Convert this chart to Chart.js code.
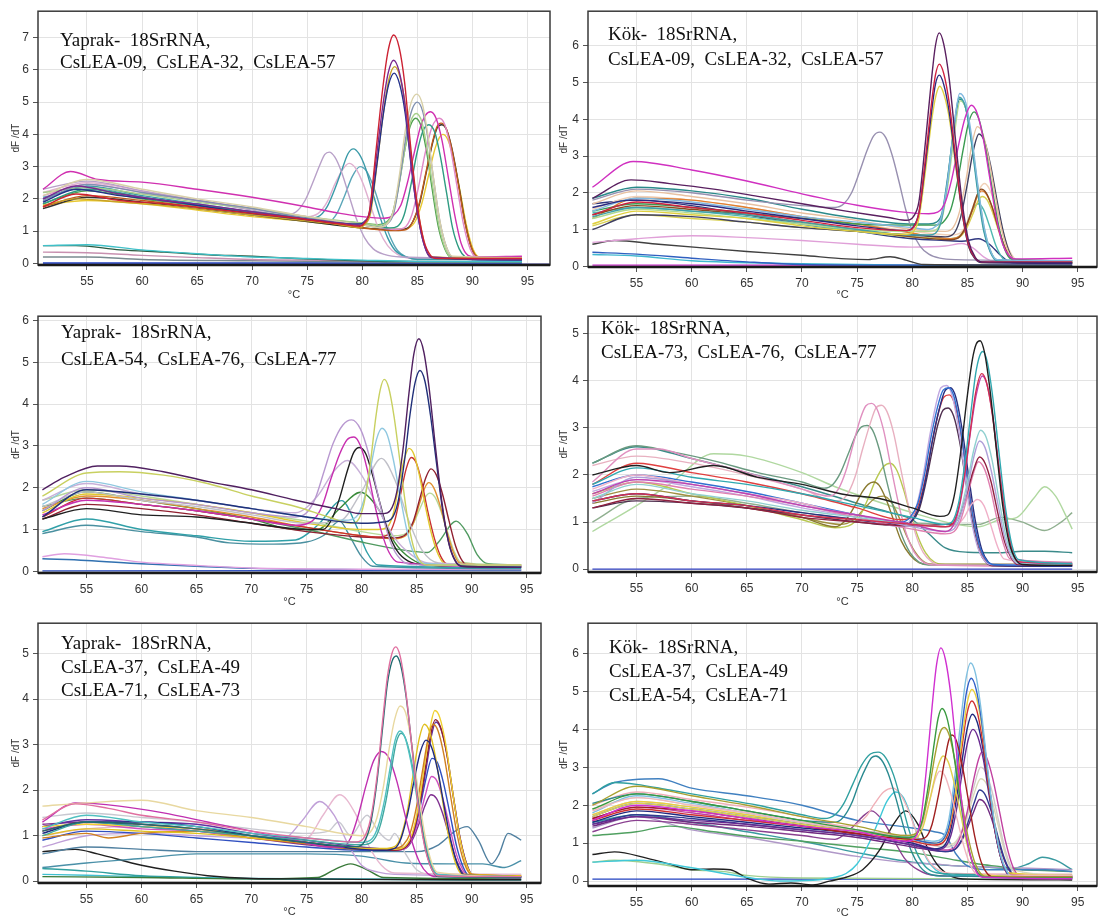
<!DOCTYPE html>
<html>
<head>
<meta charset="utf-8">
<title>Erime eğrileri</title>
<script src="https://cdn.jsdelivr.net/npm/chart.js@4.4.1/dist/chart.umd.min.js"></script>
<style>
  body { margin: 0; background: #fff; }
  #wrap { position: relative; width: 1103px; height: 924px; overflow: hidden; }
  .panel { position: absolute; }
  .note { position: absolute; font-family: "Liberation Serif", "Times New Roman", serif; font-size: 19px; color: #111; white-space: pre; }
</style>
</head>
<body>
<div id="wrap"></div>
<script>
// tick labels
const tempTicks = [55, 60, 65, 70, 75, 80, 85, 90, 95];
const ticks5 = [0, 1, 2, 3, 4, 5];
const ticks6 = [0, 1, 2, 3, 4, 5, 6];
const ticks7 = [0, 1, 2, 3, 4, 5, 6, 7];

// panel captions
const yaprak1Label = ["Yaprak-  18SrRNA,", "CsLEA-09,  CsLEA-32,  CsLEA-57"];
const kok1Label = ["Kök-  18SrRNA,", "CsLEA-09,  CsLEA-32,  CsLEA-57"];
const yaprak2Label = ["Yaprak-  18SrRNA,", "CsLEA-54,  CsLEA-76,  CsLEA-77"];
const kok2Label = ["Kök-  18SrRNA,", "CsLEA-73,  CsLEA-76,  CsLEA-77"];
const yaprak3Label = ["Yaprak-  18SrRNA,", "CsLEA-37,  CsLEA-49", "CsLEA-71,  CsLEA-73"];
const kok3Label = ["Kök-  18SrRNA,", "CsLEA-37,  CsLEA-49", "CsLEA-54,  CsLEA-71"];

// melt curves: each curve is a list of [°C, dF/dT]
const yaprak1 = [
  [[51,1.75],[54,2.15],[58,1.95],[62,1.85],[66,1.7],[70,1.55],[74,1.4],[78,1.22],[79.8,1.15],[80.2,1.25],[80.65,1.6],[81.25,3.5],[81.85,5.4],[82.35,6.6],[82.85,7.08],[83.35,6.7],[83.85,5.6],[84.4,3.6],[85,1.8],[85.6,0.7],[86.2,0.25],[86.8,0.15],[94.5,0.15]],
  [[51,2.0],[54,2.4],[58,2.15],[62,1.95],[66,1.8],[70,1.6],[74,1.42],[78,1.25],[79.8,1.18],[80.2,1.28],[80.65,1.6],[81.25,3.2],[81.85,4.85],[82.35,5.9],[82.85,6.3],[83.35,5.95],[83.85,5.0],[84.4,3.2],[85,1.6],[85.6,0.6],[86.2,0.2],[94.5,0.12]],
  [[51,1.9],[54,2.3],[58,2.1],[62,1.95],[66,1.75],[70,1.55],[74,1.4],[78,1.25],[79.8,1.22],[80.2,1.3],[80.7,1.6],[81.3,3.0],[81.9,4.6],[82.4,5.55],[82.9,5.9],[83.4,5.55],[83.9,4.65],[84.45,3.0],[85.05,1.5],[85.65,0.55],[86.25,0.18],[94.5,0.1]],
  [[51,1.8],[54,2.0],[58,1.9],[62,1.8],[66,1.65],[70,1.5],[74,1.35],[78,1.2],[79.8,1.1],[80.2,1.2],[80.75,1.55],[81.35,3.1],[81.95,4.75],[82.45,5.75],[82.95,6.1],[83.45,5.75],[83.95,4.8],[84.5,3.1],[85.1,1.55],[85.7,0.55],[86.3,0.2],[94.5,0.15]],
  [[51,2.1],[55,2.6],[60,2.3],[65,2.0],[70,1.75],[75,1.45],[80,1.2],[81.5,1.12],[82.2,1.2],[82.8,1.6],[83.4,2.8],[83.9,4.1],[84.45,5.0],[84.95,5.25],[85.45,4.95],[85.95,4.0],[86.45,2.7],[87,1.4],[87.6,0.55],[88.2,0.22],[94.5,0.18]],
  [[51,1.95],[55,2.45],[60,2.2],[65,1.95],[70,1.7],[75,1.4],[80,1.2],[81.5,1.12],[82.2,1.2],[82.85,1.55],[83.45,2.7],[83.95,3.9],[84.5,4.75],[85.0,5.0],[85.5,4.7],[86.0,3.8],[86.5,2.55],[87.05,1.3],[87.65,0.5],[88.25,0.18],[94.5,0.15]],
  [[51,2.2],[55,2.35],[60,2.15],[65,1.9],[70,1.7],[75,1.45],[80,1.25],[81.5,1.18],[82.2,1.25],[82.8,1.55],[83.4,2.55],[83.9,3.6],[84.4,4.4],[84.9,4.65],[85.4,4.4],[85.9,3.55],[86.4,2.4],[86.95,1.2],[87.55,0.45],[88.15,0.18],[94.5,0.15]],
  [[51,1.85],[55,2.3],[60,2.05],[65,1.8],[70,1.6],[75,1.4],[80,1.2],[82.5,1.1],[83.2,1.15],[83.8,1.5],[84.4,2.4],[84.95,3.4],[85.5,4.1],[86.05,4.3],[86.6,4.05],[87.1,3.3],[87.65,2.2],[88.2,1.1],[88.8,0.45],[89.4,0.18],[90,0.12],[94.5,0.12]],
  [[51,2.3],[53.5,2.85],[56,2.6],[60,2.52],[65,2.3],[70,2.05],[75,1.75],[78,1.55],[80,1.45],[82,1.4],[82.8,1.48],[83.5,1.8],[84.1,2.5],[84.7,3.4],[85.3,4.25],[85.75,4.6],[86.2,4.7],[86.7,4.5],[87.25,3.8],[87.8,2.7],[88.4,1.5],[89,0.6],[89.6,0.25],[90.2,0.2],[94.5,0.22]],
  [[51,2.1],[55,2.45],[60,2.2],[65,1.95],[70,1.7],[75,1.45],[80,1.2],[83,1.05],[83.8,1.1],[84.5,1.5],[85.1,2.35],[85.7,3.4],[86.3,4.2],[86.7,4.45],[87.0,4.5],[87.5,4.3],[88,3.6],[88.6,2.4],[89.2,1.2],[89.8,0.45],[90.4,0.2],[94.5,0.2]],
  [[51,1.75],[55,2.1],[60,1.95],[65,1.75],[70,1.55],[75,1.35],[80,1.1],[83,1.02],[84,1.05],[84.6,1.3],[85.2,1.9],[85.8,2.85],[86.4,3.8],[86.8,4.25],[87.15,4.35],[87.6,4.2],[88.1,3.6],[88.7,2.5],[89.3,1.3],[89.9,0.5],[90.5,0.2],[94.5,0.15]],
  [[51,1.7],[55,2.05],[60,1.9],[65,1.7],[70,1.5],[75,1.3],[80,1.1],[83,1.05],[84,1.08],[84.6,1.3],[85.2,1.85],[85.8,2.8],[86.4,3.75],[86.8,4.2],[87.2,4.3],[87.65,4.15],[88.15,3.55],[88.75,2.45],[89.35,1.25],[89.95,0.45],[90.55,0.18],[94.5,0.12]],
  [[51,1.8],[55,1.95],[60,1.85],[65,1.65],[70,1.45],[75,1.3],[80,1.1],[83,1.05],[84.2,1.1],[84.8,1.3],[85.4,1.85],[86,2.7],[86.6,3.55],[87,3.9],[87.3,4.0],[87.75,3.85],[88.25,3.3],[88.85,2.3],[89.45,1.2],[90.05,0.45],[90.6,0.2],[94.5,0.15]],
  [[51,2.3],[55,2.55],[60,2.25],[65,1.95],[70,1.65],[73,1.5],[74,1.6],[74.8,1.95],[75.5,2.5],[76.2,3.1],[76.6,3.38],[77.0,3.45],[77.5,3.3],[78.1,2.85],[78.8,2.1],[79.5,1.35],[80.2,0.8],[81,0.45],[82,0.28],[83.5,0.2],[94.5,0.15]],
  [[51,2.0],[55,2.4],[60,2.1],[65,1.85],[70,1.6],[75,1.4],[76,1.45],[76.8,1.75],[77.5,2.3],[78.2,2.95],[78.7,3.4],[79.2,3.55],[79.7,3.4],[80.3,2.95],[80.9,2.25],[81.6,1.45],[82.3,0.8],[83,0.4],[84,0.2],[85,0.13],[94.5,0.12]],
  [[51,2.2],[55,2.5],[60,2.25],[65,1.95],[70,1.7],[75,1.45],[76,1.55],[76.8,1.9],[77.5,2.45],[78.2,2.9],[78.8,3.1],[79.4,2.95],[80.1,2.45],[80.8,1.75],[81.5,1.05],[82.3,0.55],[83.2,0.28],[84.5,0.16],[94.5,0.15]],
  [[51,2.05],[55,2.35],[60,2.05],[65,1.8],[70,1.55],[75,1.35],[77,1.3],[77.7,1.55],[78.4,2.1],[79.1,2.7],[79.8,3.0],[80.4,2.85],[81.1,2.3],[81.8,1.55],[82.5,0.85],[83.2,0.4],[84,0.2],[85,0.12],[94.5,0.12]],
  [[51,0.55],[55,0.58],[60,0.42],[65,0.3],[70,0.2],[75,0.15],[80,0.1],[85,0.06],[94.5,0.05]],
  [[51,0.55],[54,0.55],[58,0.42],[62,0.35],[66,0.27],[70,0.22],[74,0.15],[78,0.1],[82,0.06],[94.5,0.05]],
  [[51,0.35],[55,0.33],[60,0.25],[65,0.18],[70,0.12],[75,0.1],[80,0.08],[85,0.05],[94.5,0.04]],
  [[51,0.2],[55,0.2],[60,0.12],[70,0.08],[80,0.05],[94.5,0.03]],
  [[51,0.01],[94.5,0.01]],
  [[51,1.85],[55,2.25],[60,2.0],[65,1.8],[70,1.6],[75,1.4],[80,1.25],[81.5,1.2],[82.2,1.28],[82.75,1.55],[83.35,2.5],[83.85,3.5],[84.35,4.25],[84.85,4.5],[85.35,4.25],[85.85,3.45],[86.35,2.3],[86.9,1.15],[87.5,0.45],[88.1,0.18],[94.5,0.15]],
  [[51,-0.02],[97,-0.02]]
];
const yaprak1Colors = ["#cc2233","#7a2a90","#22308a","#c9a227","#d8d0a8","#8090b0","#a8d08c","#2e9b82","#d030b0","#e088c8","#c05a1a","#333333","#e8c830","#b8a0c8","#3a9aa8","#e0b0d0","#5aa6b8","#40c0c8","#2a5a40","#c890b0","#7a8a90","#2040c0","#50a050","#8080c0"];

const kok1 = [
  [[51,1.85],[54.5,2.35],[58,2.25],[62,2.1],[66,1.9],[70,1.7],[74,1.5],[78,1.32],[79.5,1.25],[80.1,1.35],[80.6,1.75],[81.2,3.4],[81.75,5.1],[82.1,6.0],[82.45,6.35],[82.85,6.05],[83.35,5.1],[83.9,3.5],[84.5,1.8],[85.1,0.7],[85.7,0.25],[86.3,0.12],[94.5,0.1]],
  [[51,1.4],[55,1.75],[60,1.6],[65,1.45],[70,1.25],[75,1.05],[79.5,0.97],[80.1,1.05],[80.6,1.45],[81.2,2.95],[81.75,4.45],[82.1,5.2],[82.45,5.5],[82.85,5.25],[83.35,4.45],[83.9,3.05],[84.5,1.55],[85.1,0.6],[85.7,0.22],[86.3,0.12],[94.5,0.12]],
  [[51,1.6],[54.5,1.8],[60,1.7],[65,1.5],[70,1.3],[75,1.1],[79.5,0.97],[80.1,1.08],[80.6,1.45],[81.2,2.8],[81.75,4.2],[82.1,4.95],[82.45,5.2],[82.85,4.95],[83.35,4.2],[83.9,2.9],[84.5,1.5],[85.1,0.55],[85.7,0.2],[86.3,0.1],[94.5,0.08]],
  [[51,1.15],[55,1.5],[60,1.4],[65,1.3],[70,1.1],[75,0.95],[79.5,0.87],[80.1,0.95],[80.6,1.3],[81.2,2.6],[81.75,3.95],[82.15,4.65],[82.5,4.9],[82.9,4.65],[83.4,3.95],[83.95,2.7],[84.55,1.4],[85.15,0.5],[85.75,0.2],[86.3,0.1],[94.5,0.1]],
  [[51,2.15],[54.7,2.85],[60,2.62],[65,2.32],[70,1.97],[75,1.66],[79,1.48],[81.5,1.43],[82.3,1.47],[83,1.75],[83.6,2.4],[84.2,3.3],[84.8,4.05],[85.35,4.38],[85.9,4.15],[86.45,3.45],[87,2.45],[87.6,1.35],[88.2,0.6],[88.8,0.28],[89.4,0.2],[94.5,0.22]],
  [[51,1.5],[55,1.85],[60,1.75],[65,1.55],[70,1.35],[75,1.2],[80,1.05],[81.5,1.0],[82.1,1.08],[82.6,1.3],[83.2,2.3],[83.75,3.7],[84.3,4.7],[84.85,4.45],[85.4,3.5],[85.95,2.2],[86.5,1.1],[87.1,0.42],[87.7,0.18],[94.5,0.15]],
  [[51,1.35],[55,1.6],[60,1.5],[65,1.4],[70,1.2],[75,1.0],[80,0.85],[81.5,0.85],[82.1,0.9],[82.6,1.2],[83.15,2.2],[83.7,3.6],[84.25,4.6],[84.8,4.35],[85.35,3.4],[85.9,2.1],[86.45,1.0],[87.05,0.4],[87.65,0.15],[94.5,0.12]],
  [[51,1.3],[55,1.55],[60,1.45],[65,1.3],[70,1.15],[75,1.0],[80,0.95],[81.5,0.95],[82.2,1.0],[82.7,1.3],[83.25,2.25],[83.8,3.55],[84.35,4.5],[84.9,4.25],[85.45,3.3],[86,2.05],[86.55,1.0],[87.15,0.38],[87.75,0.15],[94.5,0.12]],
  [[51,1.5],[55,1.7],[60,1.6],[65,1.45],[70,1.3],[75,1.15],[79,1.12],[82,1.12],[82.8,1.2],[83.5,1.55],[84.1,2.3],[84.6,3.15],[85.1,3.9],[85.6,4.2],[86.1,3.95],[86.65,3.2],[87.2,2.2],[87.8,1.15],[88.4,0.45],[89,0.2],[94.5,0.15]],
  [[51,1.7],[55,2.05],[60,1.9],[65,1.7],[70,1.45],[75,1.25],[80,1.0],[83,0.95],[83.7,1.05],[84.3,1.5],[84.9,2.4],[85.4,3.3],[85.9,3.8],[86.4,3.6],[86.95,2.9],[87.5,1.95],[88.1,1.0],[88.7,0.4],[89.3,0.18],[94.5,0.12]],
  [[51,1.0],[55,1.4],[60,1.35],[65,1.2],[70,1.05],[75,0.95],[80,0.85],[83,0.8],[83.8,0.9],[84.4,1.35],[85,2.25],[85.5,3.1],[86.05,3.6],[86.55,3.4],[87.1,2.75],[87.65,1.85],[88.25,0.95],[88.85,0.35],[89.45,0.13],[94.5,0.08]],
  [[51,1.4],[55,1.65],[60,1.55],[65,1.4],[70,1.2],[75,1.0],[80,0.8],[83.5,0.72],[84.3,0.8],[84.9,1.1],[85.5,1.6],[85.9,1.95],[86.25,2.1],[86.7,2.0],[87.2,1.65],[87.8,1.05],[88.4,0.5],[89,0.2],[89.6,0.1],[94.5,0.1]],
  [[51,1.3],[55,1.85],[60,1.8],[65,1.6],[70,1.35],[75,1.15],[80,0.9],[83.5,0.75],[84.3,0.82],[84.9,1.1],[85.5,1.55],[85.9,1.9],[86.3,2.05],[86.75,1.95],[87.25,1.6],[87.85,1.0],[88.45,0.48],[89.05,0.2],[89.6,0.1],[94.5,0.1]],
  [[51,1.55],[55,1.9],[60,1.8],[65,1.6],[70,1.35],[75,1.15],[80,0.95],[83.5,0.85],[84.4,0.92],[85,1.2],[85.6,1.7],[86.1,2.1],[86.55,2.25],[87,2.1],[87.5,1.7],[88.1,1.05],[88.7,0.5],[89.3,0.2],[89.9,0.12],[94.5,0.12]],
  [[51,1.1],[55,1.4],[60,1.3],[65,1.2],[70,1.05],[75,0.95],[80,0.8],[83.5,0.75],[84.4,0.82],[85,1.08],[85.6,1.5],[86,1.8],[86.35,1.9],[86.8,1.8],[87.3,1.45],[87.9,0.9],[88.5,0.42],[89.1,0.17],[89.7,0.1],[94.5,0.1]],
  [[51,1.45],[55,1.6],[60,1.5],[65,1.35],[70,1.15],[75,0.95],[80,0.8],[83.5,0.75],[84.2,0.8],[84.8,1.05],[85.4,1.5],[85.95,1.7],[86.45,1.55],[87,1.1],[87.6,0.55],[88.2,0.22],[88.8,0.12],[94.5,0.1]],
  [[51,1.7],[55,1.8],[60,1.65],[65,1.4],[70,1.15],[75,0.95],[80,0.75],[83,0.7],[84.5,0.68],[86,0.75],[87,0.6],[88,0.3],[89,0.1],[94.5,0.08]],
  [[51,1.8],[55,2.1],[60,2.0],[65,1.8],[70,1.65],[73,1.6],[73.8,1.7],[74.5,2.0],[75.2,2.55],[75.9,3.15],[76.5,3.55],[77.05,3.65],[77.6,3.5],[78.2,3.0],[78.8,2.3],[79.4,1.55],[80,0.95],[80.7,0.55],[81.5,0.33],[82.5,0.22],[84,0.18],[94.5,0.15]],
  [[51,0.65],[55,0.75],[60,0.83],[65,0.78],[70,0.7],[75,0.6],[80,0.52],[83,0.55],[84.5,0.62],[85.5,0.5],[86.5,0.25],[87.5,0.12],[94.5,0.1]],
  [[51,0.6],[53,0.7],[57,0.6],[61,0.5],[65,0.4],[70,0.3],[74,0.2],[76,0.18],[78,0.26],[79.5,0.16],[81,0.05],[94.5,0.03]],
  [[51,0.38],[55,0.33],[60,0.22],[65,0.12],[70,0.05],[80,0.03],[94.5,0.03]],
  [[51,0.32],[55,0.28],[60,0.15],[70,0.07],[80,0.03],[94.5,0.02]],
  [[51,0.03],[94.5,0.03]],
  [[51,1.85],[55,2.15],[60,2.05],[65,1.85],[70,1.55],[75,1.3],[80,1.15],[81.5,1.15],[82.2,1.2],[82.7,1.45],[83.2,2.4],[83.75,3.65],[84.3,4.55],[84.85,4.3],[85.4,3.35],[85.95,2.1],[86.5,1.0],[87.1,0.4],[87.7,0.17],[94.5,0.15]]
];
const kok1Colors = ["#5a2060","#d02040","#2a2a80","#e0d040","#d030c0","#80b8e0","#40a0a8","#b0d890","#3a9a50","#e8c0a0","#404060","#8a4a20","#e08030","#f0d0b8","#d8d050","#50b8b0","#303880","#9890b0","#e0a0d8","#404040","#3060c0","#40b8d0","#c020c0","#2a8a8a"];

const yaprak2 = [
  [[51,1.95],[53,2.25],[56,2.52],[58,2.52],[62,2.38],[66,2.15],[70,1.95],[74,1.7],[78,1.48],[80,1.38],[82,1.38],[82.6,1.45],[83.2,1.9],[83.8,3.0],[84.3,4.25],[84.75,5.2],[85.2,5.56],[85.65,5.25],[86.15,4.35],[86.7,3.0],[87.3,1.65],[87.9,0.7],[88.5,0.25],[89.1,0.12],[94.5,0.1]],
  [[51,1.3],[55,1.95],[60,1.85],[65,1.7],[70,1.5],[75,1.3],[80,1.15],[82,1.18],[82.7,1.25],[83.3,1.65],[83.9,2.65],[84.4,3.75],[84.85,4.5],[85.3,4.8],[85.75,4.55],[86.25,3.75],[86.8,2.6],[87.4,1.4],[88,0.6],[88.6,0.22],[89.2,0.12],[94.5,0.1]],
  [[51,1.8],[55,2.35],[58,2.38],[62,2.3],[66,2.1],[70,1.8],[74,1.55],[77,1.3],[79,1.15],[79.6,1.2],[80.2,1.6],[80.8,2.6],[81.3,3.7],[81.7,4.35],[82.05,4.59],[82.45,4.4],[82.95,3.7],[83.5,2.6],[84.1,1.4],[84.7,0.6],[85.3,0.25],[86,0.15],[94.5,0.15]],
  [[51,1.6],[55,2.15],[60,1.9],[65,1.7],[70,1.5],[75,1.3],[78.5,1.22],[79.5,1.3],[80.2,1.7],[80.8,2.45],[81.35,3.15],[81.85,3.42],[82.35,3.25],[82.9,2.65],[83.5,1.8],[84.1,1.0],[84.7,0.45],[85.4,0.2],[94.5,0.12]],
  [[51,1.45],[55,2.0],[60,1.75],[65,1.6],[70,1.4],[74,1.3],[75,1.4],[75.8,1.75],[76.6,2.4],[77.4,3.05],[78.3,3.5],[79.1,3.62],[79.9,3.4],[80.6,2.85],[81.3,2.05],[82,1.25],[82.7,0.65],[83.5,0.3],[84.5,0.16],[94.5,0.12]],
  [[51,1.35],[55,1.7],[60,1.6],[65,1.45],[70,1.25],[74,1.1],[75.5,1.2],[76.4,1.55],[77.2,2.2],[78,2.8],[78.7,3.15],[79.3,3.21],[79.9,3.0],[80.5,2.45],[81.1,1.7],[81.8,0.95],[82.5,0.45],[83.3,0.22],[94.5,0.1]],
  [[51,1.25],[55,1.5],[60,1.35],[65,1.3],[70,1.15],[75,1.0],[76.5,1.0],[77.3,1.25],[78,1.75],[78.7,2.4],[79.3,2.85],[79.8,2.96],[80.4,2.8],[81,2.3],[81.7,1.6],[82.4,0.95],[83.2,0.5],[84.2,0.25],[86,0.15],[94.5,0.1]],
  [[51,1.7],[55,2.1],[60,1.85],[65,1.7],[70,1.5],[74,1.4],[76,1.8],[77.5,2.4],[78.7,2.65],[80,2.3],[81.5,1.5],[83,0.8],[84.5,0.4],[86,0.2],[94.5,0.15]],
  [[51,1.55],[55,1.9],[60,1.7],[65,1.55],[70,1.35],[75,1.15],[78,1.2],[80,1.9],[81.8,2.7],[83,2.2],[84.3,1.2],[85.5,0.5],[87,0.2],[94.5,0.15]],
  [[51,1.4],[55,1.85],[60,1.75],[65,1.6],[70,1.4],[75,1.15],[80,1.0],[81.5,1.0],[82.3,1.05],[82.9,1.4],[83.4,2.1],[83.9,2.7],[84.3,2.94],[84.75,2.8],[85.25,2.3],[85.8,1.55],[86.4,0.85],[87,0.38],[87.6,0.18],[94.5,0.15]],
  [[51,1.3],[55,1.75],[60,1.6],[65,1.45],[70,1.25],[75,1.05],[80,0.85],[81.5,0.82],[82.4,0.88],[83,1.2],[83.55,1.85],[84.05,2.45],[84.5,2.72],[84.95,2.6],[85.45,2.15],[86,1.45],[86.6,0.8],[87.2,0.35],[87.8,0.17],[94.5,0.12]],
  [[51,1.25],[55,1.6],[60,1.5],[65,1.35],[70,1.15],[75,0.95],[80,0.82],[83,0.8],[84,0.88],[84.7,1.2],[85.3,1.75],[85.85,2.25],[86.3,2.45],[86.8,2.3],[87.35,1.85],[87.95,1.2],[88.55,0.6],[89.15,0.25],[89.75,0.13],[94.5,0.12]],
  [[51,1.5],[55,1.8],[60,1.7],[65,1.5],[70,1.3],[75,1.05],[80,0.85],[83,0.78],[84,0.85],[84.7,1.15],[85.3,1.65],[85.75,2.0],[86.1,2.12],[86.55,2.0],[87.1,1.6],[87.7,1.0],[88.3,0.48],[88.9,0.2],[94.5,0.12]],
  [[51,1.7],[55,1.95],[60,1.8],[65,1.6],[70,1.4],[75,1.2],[80,0.95],[83,0.85],[84,0.9],[84.7,1.15],[85.3,1.5],[85.8,1.78],[86.2,1.87],[86.65,1.78],[87.2,1.45],[87.8,0.95],[88.4,0.48],[89,0.22],[94.5,0.15]],
  [[51,1.55],[55,1.75],[60,1.6],[65,1.45],[70,1.25],[75,1.0],[80,0.7],[84,0.5],[86,0.45],[87,0.7],[88.6,1.2],[89.6,0.9],[90.5,0.4],[91.5,0.18],[94.5,0.15]],
  [[51,1.45],[55,1.9],[60,1.7],[65,1.5],[70,1.25],[74,1.0],[76,1.0],[78,1.5],[79.9,1.89],[81.5,1.5],[83,0.7],[84.5,0.3],[86,0.15],[94.5,0.1]],
  [[51,0.95],[55,1.25],[60,1.0],[65,0.85],[70,0.72],[74,0.75],[76,1.1],[78.2,1.69],[79.5,1.1],[80.5,0.45],[81.5,0.15],[94.5,0.08]],
  [[51,0.9],[55,1.1],[60,0.95],[65,0.82],[68,0.68],[72,0.65],[75,0.7],[76.5,0.85],[78,1.2],[79,0.8],[80,0.35],[81,0.12],[94.5,0.06]],
  [[51,0.35],[53,0.42],[57,0.32],[60,0.22],[65,0.14],[70,0.08],[80,0.05],[94.5,0.04]],
  [[51,0.3],[55,0.26],[60,0.18],[65,0.12],[70,0.07],[80,0.04],[94.5,0.03]],
  [[51,0.01],[94.5,0.02]]
];
const yaprak2Colors = ["#502060","#20307a","#c8d060","#90c8e0","#b898d0","#c830b0","#202020","#c8b0d8","#c0c0c8","#e0c830","#c83030","#902030","#e09030","#b8d898","#509a60","#3a8a3a","#30a0a8","#4a90a0","#e0a0e0","#3070b0","#3050c0"];

const kok2 = [
  [[51,2.0],[55,2.2],[58,2.05],[62,2.2],[66,1.95],[70,1.8],[74,1.58],[77,1.5],[80,1.3],[82.5,1.12],[83.2,1.15],[83.8,1.55],[84.4,2.5],[84.95,3.6],[85.45,4.45],[85.8,4.78],[86.15,4.85],[86.55,4.6],[87.05,3.8],[87.6,2.6],[88.2,1.35],[88.8,0.55],[89.4,0.2],[90,0.1],[94.5,0.08]],
  [[51,1.8],[55,2.15],[60,1.95],[65,1.8],[70,1.6],[75,1.35],[80,1.1],[83,0.95],[83.6,1.0],[84.2,1.4],[84.8,2.3],[85.3,3.3],[85.75,4.15],[86.1,4.52],[86.4,4.62],[86.8,4.4],[87.3,3.65],[87.85,2.5],[88.45,1.3],[89.05,0.5],[89.65,0.2],[94.5,0.12]],
  [[51,1.45],[55,1.6],[60,1.45],[65,1.35],[70,1.15],[75,1.05],[80,0.95],[83,0.9],[83.6,0.95],[84.2,1.3],[84.8,2.1],[85.3,3.0],[85.75,3.75],[86.3,4.15],[86.75,3.95],[87.25,3.3],[87.8,2.25],[88.4,1.2],[89,0.45],[89.6,0.16],[94.5,0.12]],
  [[51,1.6],[55,1.9],[60,1.8],[65,1.6],[70,1.35],[75,1.15],[80,0.95],[83,0.8],[83.6,0.88],[84.2,1.25],[84.8,2.05],[85.3,2.95],[85.8,3.7],[86.35,4.1],[86.8,3.9],[87.3,3.25],[87.85,2.2],[88.45,1.15],[89.05,0.42],[89.65,0.15],[94.5,0.12]],
  [[51,1.5],[55,1.8],[60,1.6],[65,1.45],[70,1.25],[75,1.1],[80,0.95],[83,0.9],[83.8,0.95],[84.4,1.25],[85,1.85],[85.6,2.55],[86.2,2.95],[86.7,2.8],[87.25,2.3],[87.85,1.5],[88.45,0.75],[89.05,0.3],[89.65,0.13],[94.5,0.1]],
  [[51,1.4],[55,1.95],[60,1.8],[65,1.6],[70,1.35],[75,1.15],[80,0.9],[83,0.8],[83.8,0.86],[84.4,1.15],[85,1.7],[85.55,2.35],[86.1,2.72],[86.6,2.58],[87.15,2.1],[87.75,1.4],[88.35,0.7],[88.95,0.28],[89.55,0.12],[94.5,0.1]],
  [[51,1.3],[55,1.5],[60,1.4],[65,1.3],[70,1.1],[75,1.0],[80,0.92],[83,0.95],[83.8,0.98],[84.4,1.2],[85,1.65],[85.55,2.1],[86.1,2.38],[86.6,2.25],[87.15,1.85],[87.75,1.2],[88.35,0.6],[88.95,0.25],[89.55,0.1],[94.5,0.08]],
  [[51,1.55],[55,1.85],[60,1.7],[65,1.55],[70,1.35],[75,1.1],[80,0.85],[83,0.75],[83.8,0.8],[84.4,1.05],[85,1.55],[85.5,2.0],[86,2.28],[86.5,2.15],[87.05,1.75],[87.65,1.1],[88.25,0.55],[88.85,0.22],[94.5,0.15]],
  [[51,1.7],[55,2.0],[60,1.8],[65,1.6],[70,1.4],[75,1.1],[80,0.95],[83,0.9],[84,0.93],[84.7,1.1],[85.3,1.35],[85.9,1.48],[86.5,1.35],[87.1,0.95],[87.7,0.5],[88.3,0.22],[94.5,0.1]],
  [[51,1.75],[55,2.0],[60,1.85],[65,1.65],[70,1.4],[75,1.15],[79,1.0],[79.8,1.1],[80.5,1.4],[81.1,2.0],[81.7,2.8],[82.3,3.45],[82.8,3.8],[83.3,3.85],[83.8,3.65],[84.35,3.0],[84.95,2.0],[85.55,1.05],[86.15,0.45],[86.75,0.18],[87.4,0.1],[94.5,0.08]],
  [[51,1.65],[55,1.9],[60,1.75],[65,1.55],[70,1.3],[75,1.1],[79,0.9],[79.7,1.0],[80.4,1.35],[81,2.0],[81.6,2.85],[82.15,3.5],[82.6,3.85],[83.1,3.9],[83.6,3.7],[84.15,3.05],[84.75,2.05],[85.35,1.05],[85.95,0.45],[86.55,0.18],[87.2,0.1],[94.5,0.1]],
  [[51,1.45],[55,1.6],[60,1.45],[65,1.35],[70,1.2],[75,1.05],[79,0.95],[79.9,1.02],[80.65,1.35],[81.25,1.95],[81.85,2.75],[82.45,3.4],[82.95,3.78],[83.45,3.85],[83.95,3.65],[84.5,3.0],[85.1,2.0],[85.7,1.05],[86.3,0.42],[86.9,0.15],[87.5,0.08],[94.5,0.06]],
  [[51,1.8],[55,2.25],[60,2.05],[65,1.85],[70,1.6],[75,1.3],[79,1.05],[79.9,1.1],[80.6,1.4],[81.2,1.95],[81.8,2.7],[82.35,3.3],[82.85,3.65],[83.35,3.7],[83.85,3.5],[84.4,2.9],[85,1.95],[85.6,1.0],[86.2,0.4],[86.8,0.15],[87.4,0.08],[94.5,0.08]],
  [[51,1.3],[55,1.45],[60,1.4],[65,1.3],[70,1.15],[75,1.0],[79,0.92],[79.9,1.0],[80.6,1.25],[81.2,1.8],[81.8,2.5],[82.3,3.05],[82.8,3.38],[83.25,3.42],[83.75,3.25],[84.3,2.7],[84.9,1.8],[85.5,0.95],[86.1,0.38],[86.7,0.14],[87.3,0.07],[94.5,0.06]],
  [[51,1.85],[55,2.55],[57,2.55],[60,2.35],[65,2.05],[70,1.7],[72.5,1.55],[73.3,1.7],[74,2.1],[74.7,2.7],[75.3,3.2],[75.8,3.47],[76.3,3.52],[76.8,3.4],[77.4,2.95],[78,2.25],[78.7,1.45],[79.4,0.8],[80.2,0.35],[81,0.15],[82,0.09],[94.5,0.06]],
  [[51,2.2],[55,2.4],[60,2.25],[65,2.0],[70,1.7],[73,1.45],[74,1.55],[74.8,1.95],[75.5,2.55],[76.2,3.1],[76.7,3.42],[77.2,3.48],[77.7,3.35],[78.3,2.9],[78.9,2.2],[79.6,1.4],[80.3,0.75],[81,0.35],[81.8,0.15],[82.6,0.09],[94.5,0.08]],
  [[51,2.25],[55,2.62],[58,2.5],[62,2.3],[66,2.05],[70,1.85],[72,1.72],[72.8,1.8],[73.5,2.05],[74.2,2.45],[74.9,2.85],[75.4,3.02],[75.9,3.05],[76.4,2.95],[77,2.55],[77.6,1.95],[78.3,1.3],[79,0.75],[79.8,0.35],[80.6,0.15],[81.5,0.09],[94.5,0.08]],
  [[51,1.4],[55,1.55],[60,1.45],[65,1.3],[70,1.1],[73,0.9],[74,1.05],[74.8,1.35],[75.5,1.65],[76,1.8],[76.5,1.85],[77,1.78],[77.6,1.5],[78.3,1.05],[79,0.6],[79.8,0.3],[80.6,0.14],[81.5,0.1],[94.5,0.1]],
  [[51,1.6],[55,1.85],[60,1.6],[65,1.35],[70,1.05],[73,0.88],[74.5,0.95],[75.3,1.15],[76,1.5],[76.7,1.9],[77.4,2.18],[78,2.25],[78.6,2.1],[79.2,1.7],[79.8,1.2],[80.5,0.7],[81.2,0.35],[82,0.15],[83,0.1],[94.5,0.1]],
  [[51,1.5],[55,1.7],[60,1.55],[65,1.35],[70,1.1],[73.5,0.95],[74.7,1.05],[75.7,1.3],[76.6,1.5],[77.4,1.55],[78.1,1.42],[78.8,1.1],[79.5,0.7],[80.3,0.35],[81.1,0.15],[82,0.1],[94.5,0.1]],
  [[51,0.8],[55,1.35],[58,1.8],[62,2.45],[65,2.4],[70,2.05],[73,1.75],[76,1.5],[80,1.2],[84,0.95],[86,0.9],[88,1.05],[89.5,1.1],[91,1.5],[92,1.75],[93,1.55],[94,1.1],[94.5,0.85]],
  [[51,1.0],[55,1.5],[60,1.55],[65,1.4],[70,1.2],[75,1.05],[80,0.98],[84,0.95],[86,0.95],[88,1.1],[90,1.0],[92,0.82],[93.5,1.0],[94.5,1.2]],
  [[51,2.25],[55,2.6],[60,2.35],[65,2.05],[70,1.75],[75,1.4],[78,1.2],[80,1.05],[81.5,0.75],[83,0.45],[85,0.36],[88,0.35],[90,0.38],[92,0.38],[94.5,0.35]],
  [[51,0.0],[94.5,0.0]]
];
const kok2Colors = ["#202020","#30a8b0","#d03050","#c040b0","#90d0d0","#b0a0d8","#902040","#e080b0","#f0b0c8","#3070d0","#c0a8e0","#283080","#e04040","#503050","#e090c0","#e8b0c0","#6a9a80","#8a7a30","#b8c850","#a09040","#b0d8a0","#90b090","#3a8a8a","#3040c0"];

const yaprak3 = [
  [[51,1.35],[54,1.7],[57,1.6],[60,1.45],[65,1.3],[70,1.1],[75,0.95],[79.5,0.86],[80.2,0.95],[80.8,1.35],[81.4,2.3],[81.9,3.5],[82.35,4.5],[82.75,5.0],[83.1,5.15],[83.5,4.95],[84,4.2],[84.55,3.0],[85.1,1.75],[85.7,0.8],[86.3,0.3],[86.9,0.12],[94.5,0.1]],
  [[51,1.1],[55,1.3],[60,1.25],[65,1.15],[70,1.0],[75,0.85],[79.5,0.76],[80.2,0.85],[80.8,1.25],[81.4,2.2],[81.9,3.35],[82.35,4.35],[82.75,4.82],[83.15,4.95],[83.55,4.75],[84.05,4.05],[84.6,2.9],[85.15,1.7],[85.75,0.78],[86.35,0.28],[86.95,0.1],[94.5,0.08]],
  [[51,1.65],[55,1.72],[60,1.78],[65,1.55],[70,1.4],[75,1.2],[80,1.0],[80.8,1.08],[81.4,1.4],[82,2.1],[82.5,2.9],[83,3.55],[83.5,3.85],[84,3.7],[84.5,3.1],[85.05,2.15],[85.65,1.15],[86.25,0.5],[86.85,0.2],[94.5,0.1]],
  [[51,1.15],[55,1.45],[60,1.3],[65,1.2],[70,1.05],[75,0.95],[80,0.85],[80.9,0.92],[81.5,1.2],[82.1,1.8],[82.6,2.5],[83.05,3.1],[83.5,3.3],[83.95,3.15],[84.5,2.6],[85.05,1.8],[85.65,0.95],[86.25,0.4],[86.85,0.15],[94.5,0.1]],
  [[51,1.0],[55,1.3],[60,1.2],[65,1.1],[70,1.0],[75,0.9],[80,0.8],[81,0.88],[81.6,1.15],[82.2,1.75],[82.7,2.45],[83.15,3.05],[83.6,3.25],[84.05,3.1],[84.6,2.55],[85.15,1.75],[85.75,0.9],[86.35,0.38],[86.95,0.14],[94.5,0.1]],
  [[51,1.3],[54,1.72],[58,1.65],[62,1.5],[66,1.3],[70,1.1],[74,0.9],[77,0.75],[78.3,0.75],[79,0.95],[79.7,1.45],[80.4,2.1],[81.1,2.65],[81.8,2.85],[82.5,2.7],[83.2,2.2],[83.9,1.5],[84.6,0.85],[85.3,0.4],[86,0.17],[86.8,0.1],[94.5,0.1]],
  [[51,1.05],[55,1.3],[60,1.3],[65,1.2],[70,1.0],[75,0.85],[80,0.7],[82,0.68],[83,0.72],[83.6,0.95],[84.2,1.5],[84.8,2.25],[85.35,2.85],[85.85,3.1],[86.35,2.95],[86.9,2.45],[87.5,1.65],[88.1,0.9],[88.7,0.38],[89.3,0.14],[94.5,0.1]],
  [[51,1.0],[55,1.15],[60,1.1],[65,1.05],[70,0.95],[75,0.85],[80,0.72],[82,0.72],[83,0.76],[83.6,1.0],[84.2,1.6],[84.75,2.45],[85.25,3.15],[85.7,3.45],[86.15,3.3],[86.7,2.75],[87.3,1.85],[87.9,1.0],[88.5,0.42],[89.1,0.16],[94.5,0.12]],
  [[51,0.95],[55,1.05],[57,0.95],[60,1.05],[65,1.1],[70,0.95],[75,0.82],[80,0.7],[83,0.72],[83.8,0.8],[84.4,1.05],[85,1.65],[85.55,2.45],[86.05,3.15],[86.5,3.45],[86.95,3.3],[87.5,2.75],[88.1,1.85],[88.7,1.0],[89.3,0.42],[89.9,0.16],[94.5,0.12]],
  [[51,1.2],[55,1.25],[60,1.2],[65,1.15],[70,1.0],[75,0.85],[80,0.72],[83,0.7],[84,0.78],[84.6,1.05],[85.2,1.7],[85.75,2.6],[86.25,3.4],[86.65,3.75],[87.1,3.6],[87.65,3.0],[88.25,2.0],[88.85,1.05],[89.45,0.42],[90.05,0.15],[94.5,0.12]],
  [[51,1.1],[55,1.3],[60,1.25],[65,1.15],[70,1.0],[75,0.85],[80,0.72],[83,0.68],[84,0.75],[84.6,1.0],[85.2,1.6],[85.8,2.5],[86.3,3.25],[86.7,3.55],[87.15,3.4],[87.7,2.85],[88.3,1.9],[88.9,1.0],[89.5,0.4],[90.1,0.13],[94.5,0.1]],
  [[51,1.2],[55,1.35],[60,1.3],[65,1.25],[70,1.05],[75,0.9],[80,0.75],[83,0.7],[84,0.76],[84.65,1.0],[85.25,1.6],[85.85,2.45],[86.35,3.2],[86.75,3.5],[87.2,3.35],[87.75,2.8],[88.35,1.85],[88.95,0.95],[89.55,0.38],[90.15,0.12],[94.5,0.1]],
  [[51,0.9],[55,1.1],[60,1.05],[65,0.95],[70,0.85],[75,0.75],[80,0.68],[83,0.7],[84,0.76],[84.6,1.0],[85.2,1.5],[85.8,2.2],[86.4,2.7],[86.9,2.6],[87.45,2.15],[88.05,1.45],[88.65,0.75],[89.25,0.3],[89.85,0.1],[94.5,0.08]],
  [[51,1.15],[55,1.25],[60,1.15],[65,1.1],[70,0.95],[75,0.85],[80,0.7],[83,0.68],[84,0.73],[84.6,0.95],[85.2,1.35],[85.8,1.9],[86.35,2.3],[86.85,2.2],[87.4,1.8],[88,1.2],[88.6,0.6],[89.2,0.25],[89.8,0.1],[94.5,0.08]],
  [[51,1.25],[55,1.3],[60,1.2],[65,1.1],[70,0.95],[75,0.8],[80,0.7],[83,0.68],[84,0.72],[84.6,0.9],[85.2,1.25],[85.75,1.65],[86.3,1.9],[86.8,1.82],[87.35,1.5],[87.95,1.0],[88.55,0.5],[89.15,0.2],[89.75,0.1],[94.5,0.08]],
  [[51,0.75],[55,1.0],[60,1.05],[65,1.0],[70,0.95],[73,0.95],[74.5,1.3],[76.2,1.75],[77.5,1.45],[78.8,0.8],[80,0.35],[81.5,0.2],[83,0.15],[94.5,0.12]],
  [[51,1.0],[55,1.15],[60,1.2],[65,1.15],[70,1.05],[75,0.95],[76.5,1.45],[78,1.9],[79.4,1.5],[80.6,0.8],[81.8,0.35],[83,0.18],[94.5,0.15]],
  [[51,1.4],[55,1.5],[60,1.4],[65,1.3],[70,1.15],[75,1.05],[77,1.1],[77.9,1.3],[79,1.0],[80.5,1.45],[81.5,1.1],[82.5,0.9],[83,1.05],[84,0.6],[85,0.25],[86.5,0.15],[94.5,0.15]],
  [[51,0.6],[55,0.75],[60,0.7],[65,0.65],[70,0.65],[75,0.65],[80,0.65],[85,0.65],[87,0.8],[88.5,1.1],[89.6,1.2],[90.6,0.9],[91.8,0.38],[92.5,0.6],[93.3,1.05],[94,0.98],[94.5,0.9]],
  [[51,0.3],[55,0.4],[60,0.5],[65,0.6],[70,0.6],[75,0.6],[80,0.55],[84,0.4],[88,0.38],[91,0.38],[93,0.3],[94.5,0.45]],
  [[51,0.65],[54,0.7],[56,0.6],[60,0.35],[63,0.22],[66,0.12],[70,0.06],[75,0.05],[80,0.04],[94.5,0.03]],
  [[51,0.1],[60,0.08],[70,0.05],[76,0.08],[77.5,0.25],[79,0.38],[80.5,0.25],[82,0.08],[94.5,0.05]],
  [[51,0.28],[55,0.22],[60,0.12],[65,0.08],[70,0.05],[94.5,0.03]],
  [[51,0.15],[55,0.13],[60,0.1],[70,0.06],[94.5,0.03]]
];
const yaprak3Colors = ["#e070a0","#206a70","#e8d8a0","#50c0c0","#40a8a0","#c030b0","#202a80","#e0c020","#d08020","#f0d030","#902030","#6030a0","#3050c0","#d050c0","#803090","#c0a0d8","#e8b8d0","#c8c8d0","#5080a0","#4a90a8","#202020","#3a7a3a","#30a0a0","#40c0d0"];

const kok3 = [
  [[51,1.6],[55,2.0],[60,1.85],[65,1.65],[70,1.45],[75,1.3],[79.5,1.05],[80.2,1.12],[80.75,1.6],[81.3,3.0],[81.8,4.6],[82.2,5.7],[82.6,6.15],[83,5.85],[83.5,4.9],[84.05,3.3],[84.6,1.8],[85.2,0.75],[85.8,0.25],[86.4,0.1],[94.5,0.06]],
  [[51,1.9],[55,2.3],[60,2.1],[65,1.85],[70,1.6],[75,1.35],[79.5,1.15],[80.3,1.2],[80.9,1.6],[81.5,2.6],[82,3.65],[82.35,4.3],[82.7,4.55],[83.1,4.35],[83.6,3.65],[84.15,2.55],[84.75,1.4],[85.35,0.6],[85.95,0.22],[86.6,0.1],[94.5,0.08]],
  [[51,2.0],[55,2.5],[60,2.25],[65,2.0],[70,1.7],[75,1.45],[79.5,1.2],[80.3,1.25],[80.9,1.55],[81.5,2.35],[82.05,3.3],[82.5,3.9],[82.9,4.05],[83.35,3.85],[83.85,3.2],[84.4,2.25],[85,1.25],[85.6,0.55],[86.2,0.2],[86.9,0.1],[94.5,0.1]],
  [[51,1.65],[55,1.95],[60,1.85],[65,1.65],[70,1.45],[75,1.25],[80.5,1.1],[81.2,1.15],[81.8,1.5],[82.4,2.3],[82.95,3.2],[83.3,3.7],[83.6,3.85],[84,3.7],[84.5,3.1],[85.05,2.2],[85.65,1.2],[86.25,0.5],[86.85,0.18],[87.5,0.1],[94.5,0.1]],
  [[51,1.7],[55,2.05],[60,1.9],[65,1.7],[70,1.5],[75,1.3],[79.5,1.1],[80.4,1.15],[81,1.45],[81.6,2.15],[82.15,2.85],[82.55,3.2],[82.8,3.3],[83.25,3.15],[83.75,2.65],[84.3,1.9],[84.9,1.05],[85.5,0.45],[86.1,0.17],[94.5,0.1]],
  [[51,1.85],[55,2.2],[60,2.0],[65,1.8],[70,1.55],[75,1.35],[79.5,1.2],[80.4,1.25],[81,1.55],[81.6,2.15],[82.1,2.7],[82.5,2.9],[82.95,2.78],[83.5,2.3],[84.1,1.6],[84.7,0.9],[85.3,0.4],[85.9,0.18],[94.5,0.15]],
  [[51,1.8],[55,2.25],[60,2.05],[65,1.8],[70,1.55],[75,1.35],[80,1.15],[82,1.05],[82.7,1.12],[83.3,1.6],[83.85,2.75],[84.35,4.1],[84.85,5.3],[85.3,5.75],[85.75,5.45],[86.25,4.5],[86.8,3.05],[87.4,1.65],[88,0.7],[88.6,0.25],[89.2,0.1],[94.5,0.1]],
  [[51,1.7],[55,2.05],[60,1.9],[65,1.7],[70,1.5],[75,1.3],[80,1.1],[82,1.0],[82.75,1.08],[83.35,1.5],[83.9,2.55],[84.4,3.8],[84.9,4.95],[85.35,5.35],[85.8,5.05],[86.3,4.2],[86.85,2.85],[87.45,1.5],[88.05,0.62],[88.65,0.2],[89.25,0.08],[94.5,0.08]],
  [[51,1.75],[55,2.1],[60,1.95],[65,1.75],[70,1.5],[75,1.3],[80,1.1],[82,1.0],[82.8,1.08],[83.4,1.5],[83.95,2.45],[84.45,3.6],[84.95,4.65],[85.4,5.05],[85.85,4.8],[86.35,4.0],[86.9,2.7],[87.5,1.45],[88.1,0.6],[88.7,0.22],[94.5,0.15]],
  [[51,1.6],[55,1.9],[60,1.75],[65,1.6],[70,1.45],[75,1.25],[80,1.05],[82,0.95],[82.8,1.02],[83.4,1.4],[83.95,2.3],[84.45,3.4],[84.95,4.4],[85.4,4.75],[85.85,4.5],[86.35,3.75],[86.9,2.55],[87.5,1.35],[88.1,0.55],[88.7,0.2],[94.5,0.12]],
  [[51,1.55],[55,1.85],[60,1.7],[65,1.55],[70,1.4],[75,1.25],[80,1.0],[82,0.85],[82.85,0.92],[83.45,1.3],[84,2.15],[84.5,3.15],[85,4.05],[85.45,4.4],[85.9,4.18],[86.4,3.5],[86.95,2.4],[87.55,1.25],[88.15,0.5],[88.75,0.18],[94.5,0.1]],
  [[51,1.5],[55,1.7],[60,1.6],[65,1.5],[70,1.35],[75,1.2],[80,0.95],[82,0.82],[82.9,0.88],[83.5,1.2],[84.05,1.95],[84.55,2.9],[85.05,3.7],[85.5,4.0],[85.95,3.8],[86.45,3.2],[87,2.2],[87.6,1.15],[88.2,0.45],[88.8,0.16],[94.5,0.1]],
  [[51,1.65],[55,1.95],[60,1.8],[65,1.6],[70,1.45],[75,1.25],[80,1.0],[83,0.82],[83.8,0.88],[84.4,1.2],[85,1.85],[85.55,2.65],[86,3.2],[86.3,3.4],[86.75,3.25],[87.3,2.7],[87.9,1.85],[88.5,1.0],[89.1,0.4],[89.7,0.15],[94.5,0.1]],
  [[51,1.75],[55,2.1],[60,1.95],[65,1.75],[70,1.5],[75,1.3],[80,1.05],[83,0.9],[83.8,0.95],[84.4,1.25],[85,1.8],[85.6,2.5],[86.2,3.0],[86.7,2.85],[87.25,2.35],[87.85,1.55],[88.45,0.8],[89.05,0.32],[89.65,0.13],[94.5,0.12]],
  [[51,1.9],[55,2.2],[60,2.0],[65,1.8],[70,1.55],[75,1.35],[80,1.1],[83,0.95],[83.8,1.0],[84.4,1.25],[85,1.7],[85.6,2.3],[86.2,2.7],[86.7,2.58],[87.25,2.1],[87.85,1.4],[88.45,0.7],[89.05,0.3],[94.5,0.15]],
  [[51,1.5],[55,1.75],[60,1.65],[65,1.5],[70,1.35],[75,1.2],[80,0.95],[83,0.78],[83.8,0.83],[84.4,1.05],[85,1.5],[85.6,2.05],[86.1,2.4],[86.6,2.28],[87.15,1.85],[87.75,1.2],[88.35,0.6],[88.95,0.24],[89.55,0.1],[94.5,0.08]],
  [[51,1.45],[55,1.7],[60,1.55],[65,1.45],[70,1.3],[75,1.15],[80,0.9],[83,0.78],[83.8,0.82],[84.4,1.02],[85,1.4],[85.6,1.85],[86.1,2.15],[86.6,2.05],[87.15,1.68],[87.75,1.1],[88.35,0.55],[88.95,0.22],[89.55,0.1],[94.5,0.08]],
  [[51,2.3],[53,2.6],[55,2.55],[58,2.4],[62,2.2],[66,2.0],[70,1.75],[72,1.65],[73,1.75],[73.8,2.05],[74.6,2.55],[75.4,3.05],[76.2,3.35],[76.9,3.4],[77.6,3.25],[78.3,2.8],[79,2.1],[79.7,1.35],[80.4,0.75],[81.2,0.38],[82.2,0.22],[84,0.18],[94.5,0.15]],
  [[51,2.05],[55,2.3],[60,2.1],[65,1.85],[70,1.6],[73,1.55],[73.8,1.7],[74.5,2.05],[75.2,2.6],[75.9,3.05],[76.3,3.25],[76.7,3.3],[77.2,3.2],[77.8,2.85],[78.5,2.2],[79.2,1.45],[79.9,0.8],[80.7,0.38],[81.6,0.18],[83,0.13],[94.5,0.12]],
  [[51,2.0],[55,2.35],[60,2.15],[65,1.95],[70,1.7],[74,1.45],[75,1.5],[75.8,1.7],[76.6,2.05],[77.4,2.35],[78.2,2.45],[78.9,2.3],[79.6,1.9],[80.3,1.35],[81,0.8],[81.8,0.42],[82.7,0.25],[84,0.2],[94.5,0.18]],
  [[51,0.5],[55,0.55],[60,0.35],[65,0.1],[68,0.0],[71,0.02],[73,0.1],[74,0.2],[75,0.45],[76,0.95],[76.9,1.55],[77.7,2.1],[78.5,2.35],[79.2,2.2],[79.9,1.7],[80.6,1.1],[81.3,0.6],[82.1,0.3],[83,0.18],[84,0.15],[94.5,0.12]],
  [[51,1.3],[55,1.6],[60,1.5],[65,1.35],[70,1.2],[73,1.1],[74.5,1.4],[75.5,1.7],[76.3,1.85],[77.3,1.6],[78.3,1.1],[79.3,0.6],[80.5,0.3],[82,0.15],[94.5,0.1]],
  [[51,0.7],[53,0.77],[56,0.6],[58,0.45],[60,0.3],[62,0.32],[63.5,0.3],[65,0.08],[67,-0.08],[69,-0.05],[71,-0.1],[72.5,0.0],[74,0.1],[75.5,0.3],[77,0.8],[78.3,1.5],[79.4,1.85],[80.5,1.5],[81.5,0.8],[82.5,0.35],[83.6,0.12],[85,0.05],[94.5,0.03]],
  [[51,2.3],[53,2.6],[57,2.7],[60,2.45],[65,2.25],[70,2.0],[75,1.6],[80,1.4],[82,1.3],[83,1.2],[84,0.7],[85,0.4],[87,0.3],[92,0.3],[94.5,0.25]],
  [[51,1.2],[55,1.3],[58,1.45],[62,1.3],[66,1.15],[70,1.05],[75,0.9],[80,0.75],[84,0.55],[86,0.45],[88,0.38],[90,0.3],[92,0.28],[94.5,0.25]],
  [[51,1.4],[55,1.7],[60,1.35],[65,1.15],[70,0.9],[75,0.65],[79,0.5],[82,0.45],[84,0.4],[86,0.38],[89,0.35],[94.5,0.3]],
  [[51,1.55],[55,1.75],[60,1.55],[65,1.3],[70,1.05],[75,0.75],[80,0.5],[84,0.4],[86,0.38],[89,0.33],[90.5,0.45],[91.8,0.63],[93,0.55],[94.5,0.3]],
  [[51,0.5],[53,0.55],[57,0.45],[60,0.3],[63,0.25],[65,0.15],[70,0.08],[94.5,0.05]],
  [[51,0.05],[94.5,0.05]]
];
const kok3Colors = ["#d030d0","#3a9a40","#a8a030","#a02020","#e0d050","#f0b8c0","#80c0e0","#3060c8","#e8d040","#d03030","#202a80","#6a2a90","#c040a0","#d0c8c8","#d8d8b8","#303a90","#702a80","#30a0a0","#2a8a90","#f0b0b8","#40c8d8","#8a4090","#202020","#4080c0","#50a060","#b098c8","#3a9aa0","#a0d090","#2040c0"];

// layout of the six plots
const panels = [
  { curves: yaprak1, colors: yaprak1Colors, label: yaprak1Label, yTicks: ticks7,
    box: [0, 0, 552, 305], pad: [2, 2], xH: 40, x: [50.55, 97.05], y: [-0.05, 7.82],
    yTitlePad: 10, xTitlePad: 3, note: [60, 29, 22] },
  { curves: kok1, colors: kok1Colors, label: kok1Label, yTicks: ticks6,
    box: [550, 0, 553, 305], pad: [4, 6], xH: 38, x: [50.6, 96.75], y: [-0.02, 6.94],
    yTitlePad: 8, xTitlePad: 3, note: [608, 21, 25] },
  { curves: yaprak2, colors: yaprak2Colors, label: yaprak2Label, yTicks: ticks6,
    box: [0, 305, 552, 307], pad: [5, 11], xH: 39, x: [50.6, 96.3], y: [-0.04, 6.1],
    yTitlePad: 10, xTitlePad: 3, note: [61, 318, 27] },
  { curves: kok2, colors: kok2Colors, label: kok2Label, yTicks: ticks5,
    box: [550, 305, 553, 307], pad: [5, 6], xH: 40, x: [50.6, 96.75], y: [-0.06, 5.37],
    yTitlePad: 8, xTitlePad: 3, note: [601, 316, 24] },
  { curves: yaprak3, colors: yaprak3Colors, label: yaprak3Label, yTicks: ticks5,
    box: [0, 612, 552, 312], pad: [5, 11], xH: 41, x: [50.6, 96.3], y: [-0.04, 5.67],
    yTitlePad: 10, xTitlePad: 5, note: [61, 631, 23.5] },
  { curves: kok3, colors: kok3Colors, label: kok3Label, yTicks: ticks6,
    box: [550, 612, 553, 312], pad: [10, 6], xH: 38, x: [50.6, 96.75], y: [-0.13, 6.8],
    yTitlePad: 8, xTitlePad: 4, note: [609, 635, 24] }
];

const frame = {
  id: "frame",
  afterDraw(chart) {
    const a = chart.chartArea, ctx = chart.ctx;
    ctx.save();
    ctx.strokeStyle = "#3a3a3a";
    ctx.lineWidth = 1.5;
    ctx.strokeRect(a.left, a.top, a.right - a.left, a.bottom - a.top);
    ctx.lineWidth = 2.5;
    ctx.strokeStyle = "#1a1a1a";
    ctx.beginPath();
    ctx.moveTo(a.left, a.bottom);
    ctx.lineTo(a.right, a.bottom);
    ctx.stroke();
    ctx.restore();
  }
};

const wrap = document.getElementById("wrap");
const tickFont = { family: "'Liberation Sans', Arial, sans-serif", size: 12 };

panels.forEach(function(p) {
  const div = document.createElement("div");
  div.className = "panel";
  div.style.left = p.box[0] + "px";
  div.style.top = p.box[1] + "px";
  div.style.width = p.box[2] + "px";
  div.style.height = p.box[3] + "px";
  const canvas = document.createElement("canvas");
  canvas.width = p.box[2];
  canvas.height = p.box[3];
  div.appendChild(canvas);
  wrap.appendChild(div);

  const note = document.createElement("div");
  note.className = "note";
  note.style.left = p.note[0] + "px";
  note.style.top = p.note[1] + "px";
  note.style.lineHeight = p.note[2] + "px";
  note.textContent = p.label.join("\n");
  wrap.appendChild(note);

  new Chart(canvas, {
    type: "line",
    data: {
      datasets: p.curves.map(function(pts, i) {
        return {
          data: pts,
          borderColor: p.colors[i],
          borderWidth: 1.4,
          pointRadius: 0,
          fill: false,
          cubicInterpolationMode: "monotone"
        };
      })
    },
    options: {
      responsive: false,
      animation: false,
      events: [],
      layout: { padding: { top: p.pad[0], right: p.pad[1], left: 0, bottom: 0 } },
      plugins: { legend: { display: false }, tooltip: { enabled: false } },
      scales: {
        x: {
          type: "linear",
          min: p.x[0],
          max: p.x[1],
          afterBuildTicks: function(s) { s.ticks = tempTicks.map(function(v) { return { value: v }; }); },
          afterFit: function(s) { s.height = p.xH; },
          grid: { color: "#e3e3e3", tickColor: "#555", tickLength: 5 },
          border: { display: false },
          ticks: { color: "#333", font: tickFont, padding: 4, maxRotation: 0, autoSkip: false },
          title: { display: true, text: "°C", color: "#333", font: { family: "'Liberation Sans', Arial, sans-serif", size: 11 }, padding: { top: 0, bottom: p.xTitlePad } }
        },
        y: {
          min: p.y[0],
          max: p.y[1],
          afterBuildTicks: function(s) { s.ticks = p.yTicks.map(function(v) { return { value: v }; }); },
          afterFit: function(s) { s.width = 38; },
          grid: { color: "#e3e3e3", tickColor: "#555", tickLength: 5 },
          border: { display: false },
          ticks: { color: "#333", font: tickFont, padding: 4 },
          title: { display: true, text: "dF /dT", color: "#333", font: { family: "'Liberation Sans', Arial, sans-serif", size: 10 }, padding: { top: p.yTitlePad, bottom: 0 } }
        }
      }
    },
    plugins: [frame]
  });
});
</script>
</body>
</html>
